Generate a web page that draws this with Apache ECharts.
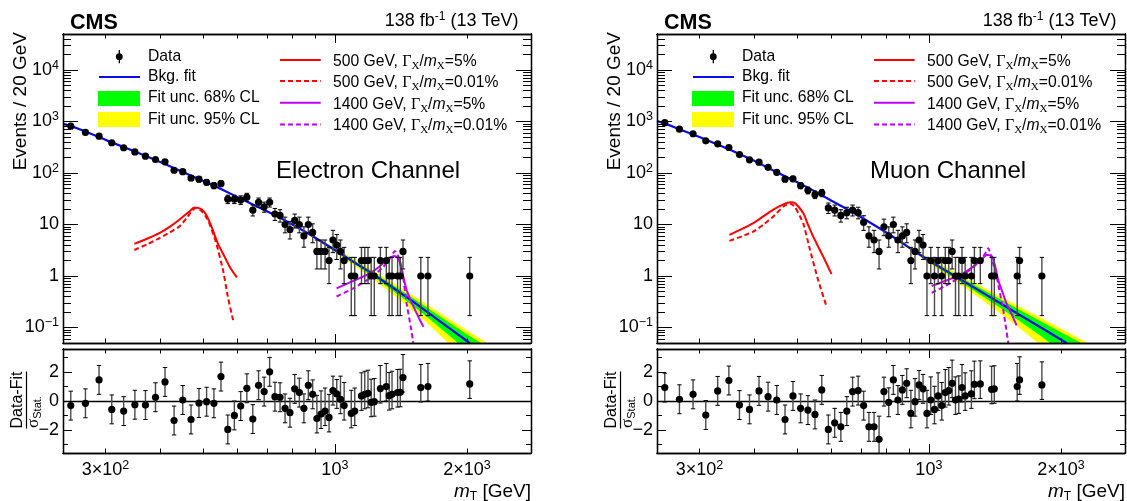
<!DOCTYPE html>
<html><head><meta charset="utf-8">
<script src="https://cdn.jsdelivr.net/npm/echarts@6/dist/echarts.min.js"></script>
<style>html,body{margin:0;padding:0;background:#fff}#c{width:1127px;height:501px}</style>
</head><body><div id="c"></div>
<script>
// ---------------- data ----------------
// Electron channel
const massE = [250,270,290,310,330,350,370,390,410,430,450,470,490,510,530,550,570,590,610,630,650,670,690,710,730,750,770,790,810,830,850,870,890,910,930,950,970,990,1010,1030,1050,1090,1110,1150,1170,1190,1210,1230,1270,1310,1330,1350,1390,1410,1430,1570,1630,2030];
const countE = [813,614,519,387,309,257,212,183,165,113,106,80,76,66,57,62,31,31,30,34,19,27,22,27,16,15,10,8,12,10,6,10,7,3,3,3,2,5,4,3,2,1,1,2,2,2,1,1,2,2,1,1,1,1,3,1,1,1];
const pullE = [-0.32,-0.16,1.46,-0.58,-0.70,-0.26,-0.28,0.26,1.32,-1.35,0.07,-1.28,-0.14,-0.05,-0.16,1.69,-1.97,-1.0,-0.35,0.88,-1.25,1.09,0.65,2.02,0.30,0.26,-0.51,-0.81,0.84,0.58,-0.51,1.09,0.46,-1.21,-0.90,-0.70,-1.14,0.72,0.49,0.12,-0.32,-0.86,-0.70,0.35,0.46,0.53,-0.09,-0.05,0.86,1.0,0.37,0.46,0.58,0.60,1.62,0.93,1.0,1.18];
const fitMassE = [240,250,270,300,350,400,450,500,550,600,650,700,750,800,850,900,1000,1100,1200,1300,1400,1500,1600,1800,2030];
const fitE = [900,822,640,440,261,163,105,71,49,34,24.5,18,13.5,10,7.5,5.6,3.2,1.9,1.2,0.76,0.49,0.33,0.22,0.105,0.05];
const bandMassE = [700,800,900,1000,1200,1400,1600,1800,2000,2200,2400];
const bandFitE = [18,10,5.6,3.2,1.2,0.49,0.22,0.105,0.055,0.031,0.018];
const band68E = [0.01,0.02,0.035,0.05,0.09,0.14,0.2,0.27,0.35,0.43,0.5];
const band95E = [0.02,0.04,0.07,0.10,0.18,0.27,0.38,0.49,0.6,0.7,0.78];
const sigE500w5M = [349,375,398,420,442,466,478,496,509,525,541,560,576,598];
const sigE500w5V = [4.2,5.4,6.8,9.0,12.4,17.9,21.5,20,15.4,8.5,4.3,2.4,1.5,0.94];
const sigE500w001M = [349,375,398,420,442,460,472,482,496,513,535,556,570,586];
const sigE500w001V = [3.2,4.2,5.4,7.0,9.1,13.5,18.5,21,18.5,12.5,4.7,1.3,0.4,0.139];
const sigE1400w5M = [1009,1100,1202,1260,1313,1340,1364,1395,1420,1458,1523,1592];
const sigE1400w5V = [0.575,0.8,1.13,1.5,2.05,2.3,2.45,2.2,1.3,0.53,0.22,0.103];
const sigE1400w001M = [1009,1101,1202,1290,1340,1371,1395,1420,1458,1490,1510];
const sigE1400w001V = [0.4,0.575,0.9,1.5,2.3,3.07,2.4,1.5,0.29,0.1,0.05];

// Muon channel
const massM = [250,270,290,310,330,350,370,390,410,430,450,470,490,510,530,550,570,590,610,630,650,670,690,710,730,750,770,790,810,830,850,870,890,910,930,950,970,990,1010,1030,1050,1070,1090,1110,1130,1150,1170,1190,1210,1250,1270,1310,1390,1410,1590,1610,1810];
const countM = [948,711,578,422,369,313,228,180,162,129,103,76,77,57,46,38,41,21,19,15,17,19,17,11,6,5,3,9,6,10,5,6,7,2,3,5,4,1,2,1,2,1,2,2,3,1,1,2,1,1,2,2,1,1,1,2,1];
const pullM = [0.93,0.12,0.46,-0.97,0.70,1.42,-0.28,-0.58,0.70,0.30,0.07,-1.28,0.35,-0.51,-0.63,-0.93,0.77,-1.97,-1.51,-1.79,-0.70,0.65,0.72,-0.32,-1.79,-1.79,-2.65,0.65,-0.09,1.46,0.07,0.77,1.23,-0.86,-0.05,1.11,0.84,-0.86,0.07,-0.58,0.35,-0.32,0.58,0.72,1.23,0.07,0.14,0.93,0.35,0.49,1.16,1.18,0.81,0.84,1.0,1.46,1.11];
const fitMassM = [240,250,270,300,350,400,450,500,550,600,650,700,750,800,850,900,1000,1100,1200,1300,1400,1500,1600,1800,2060];
const fitM = [1020,920,710,500,290,172,103,67,44,29,20,14,9.8,7.0,5.0,3.6,2.0,1.23,0.79,0.525,0.36,0.253,0.182,0.1,0.05];
const bandMassM = [700,800,900,1000,1200,1400,1600,1800,2000,2200,2400,2600];
const bandFitM = [14,7.0,3.6,2.0,0.79,0.36,0.182,0.1,0.058,0.0357,0.023,0.0153];
const band68M = [0.012,0.025,0.04,0.06,0.11,0.17,0.24,0.32,0.4,0.48,0.55,0.62];
const band95M = [0.025,0.05,0.08,0.12,0.22,0.33,0.44,0.55,0.65,0.74,0.8,0.85];
const sigM500w5M = [351,375,398,420,442,466,482,495,517,530,545,574,600];
const sigM500w5V = [6.3,8.2,10.6,14.5,19.4,24.5,26.9,26,16.7,10,5.8,2.4,1.09];
const sigM500w001M = [351,375,398,420,442,466,482,495,517,536,559,585];
const sigM500w001V = [4.8,5.9,7.3,10,14.3,22.4,25.6,22,10.6,3.2,0.84,0.25];
const sigM1400w5M = [1015,1080,1157,1220,1285,1320,1354,1390,1415,1439,1470,1504,1545,1585];
const sigM1400w5V = [0.64,0.78,0.97,1.25,1.71,2.1,2.57,2.45,1.6,0.84,0.5,0.29,0.18,0.11];
const sigM1400w001M = [1015,1117,1241,1300,1340,1366,1395,1427,1478,1517];
const sigM1400w001V = [0.47,0.72,1.31,1.9,2.6,3.47,2.0,0.97,0.217,0.05];

// Poisson interval table used for the data error bars (low counts)
const poisLo = [0,0.17,0.71,1.37,2.09,2.84,3.62,4.42,5.23,6.06,6.89];
const poisHi = [1.84,2.3,3.6,5.0,6.4,7.7,9.0,10.3,11.5,12.7,13.9];

// ---------------- axis ticks and labels ----------------
const xTickShort = [300,400,500,600,700,800,900,2000];
const xTickLong = [1000];
const xLabelValues = [300,1000,2000];
const xLabelText = ['{b|3×10}{s|2}','{b|10}{s|3}','{b|2×10}{s|3}'];
const yLabelValues = [0.1,1,10,100,1000,10000];
const yLabelText = ['{b|10}{s|−1}','{b|1}','{b|10}','{b|10}{s|2}','{b|10}{s|3}','{b|10}{s|4}'];
const yMinorValues = [];
[0.01,0.1,1,10,100,1000,10000].forEach(d => { for (let k=2;k<=9;k++){ const v=+(d*k).toPrecision(3); if (v>0.05 && v<50000) yMinorValues.push(v); } });
const rMajor = [-2,0,2];
const rMinor = [-3,-1,1,3];

const XMIN=240, XMAX=2800, YMIN=0.05, YMAX=50000, RMIN=-3.6, RMAX=3.6;
const DX = 594;
const FONT = "'Liberation Sans', Arial, Helvetica, sans-serif";
const SERIF = "'Liberation Serif', 'DejaVu Serif', serif";
const C_BLUE='#0a0af0', C_RED='#ff0000', C_VIO='#c000f0', C_GREEN='#00ff00', C_YEL='#ffff00';

const RICH = {
  b:{fontSize:18, fontFamily:FONT, color:'#000', lineHeight:22},
  s:{fontSize:12.5, fontFamily:FONT, color:'#000', lineHeight:13, verticalAlign:'top'}
};

function mkX(g, pos, ticks, len, withLabels){
  return {type:'log', logBase:10, gridIndex:g, position:pos, min:XMIN, max:XMAX, z:10,
    axisLine:{show:true, onZero:false, lineStyle:{color:'#000', width:1.3}},
    axisTick:{show:true, inside:true, length:len, customValues:ticks, lineStyle:{color:'#000', width:1}},
    axisLabel: withLabels ? {show:true, customValues:xLabelValues, margin:6, color:'#000', fontFamily:FONT, fontSize:18,
      formatter:function(v){ const i=xLabelValues.findIndex(t=>Math.abs(t-v)<1e-6*t+1e-9); return i>=0?xLabelText[i]:''; }, rich:RICH} : {show:false},
    splitLine:{show:false}, minorTick:{show:false}, minorSplitLine:{show:false}};
}
function mkYLog(g, pos, ticks, len, withLabels){
  return {type:'log', logBase:10, gridIndex:g, position:pos, min:YMIN, max:YMAX, z:10,
    axisLine:{show:true, onZero:false, lineStyle:{color:'#000', width:1.3}},
    axisTick:{show:true, inside:true, length:len, customValues:ticks, lineStyle:{color:'#000', width:1}},
    axisLabel: withLabels ? {show:true, customValues:yLabelValues, margin:4, color:'#000', fontFamily:FONT, fontSize:18,
      formatter:function(v){ const i=yLabelValues.findIndex(t=>Math.abs(t-v)<1e-6*t); return i>=0?yLabelText[i]:''; }, rich:RICH} : {show:false},
    splitLine:{show:false}, minorTick:{show:false}, minorSplitLine:{show:false}};
}
function mkYR(g, pos, ticks, len, withLabels){
  return {type:'value', gridIndex:g, position:pos, min:RMIN, max:RMAX, z:10,
    axisLine:{show:true, onZero:false, lineStyle:{color:'#000', width:1.3}},
    axisTick:{show:true, inside:true, length:len, customValues:ticks, lineStyle:{color:'#000', width:1}},
    axisLabel: withLabels ? {show:true, customValues:rMajor, margin:4, color:'#000', fontFamily:FONT, fontSize:18,
      formatter:function(v){ return (v<0?'−':'')+Math.abs(v); }} : {show:false},
    splitLine:{show:false}, minorTick:{show:false}, minorSplitLine:{show:false}};
}

const grids=[], xAxes=[], yAxes=[];
for (let p=0;p<2;p++){
  grids.push({left:63+p*DX, top:34, width:468, height:309});
  grids.push({left:63+p*DX, top:349, width:468, height:104});
}
for (let g=0; g<4; g++){
  const ratio = g%2===1;
  xAxes.push(mkX(g,'bottom',xTickShort,4.5,ratio));
  xAxes.push(mkX(g,'bottom',xTickLong,9,false));
  xAxes.push(mkX(g,'top',xTickShort,4.5,false));
  xAxes.push(mkX(g,'top',xTickLong,9,false));
  if (!ratio){
    yAxes.push(mkYLog(g,'left',yLabelValues,15,true));
    yAxes.push(mkYLog(g,'left',yMinorValues,8,false));
    yAxes.push(mkYLog(g,'right',yLabelValues,15,false));
    yAxes.push(mkYLog(g,'right',yMinorValues,8,false));
  } else {
    yAxes.push(mkYR(g,'left',rMajor,9,true));
    yAxes.push(mkYR(g,'left',rMinor,5,false));
    yAxes.push(mkYR(g,'right',rMajor,9,false));
    yAxes.push(mkYR(g,'right',rMinor,5,false));
  }
}

function zip(a,b){ return a.map((v,i)=>[v,b[i]]); }
function pois(n){ if (n<poisLo.length) return [poisLo[n], poisHi[n]]; const s=Math.sqrt(n); return [n-s, n+s+0.5]; }

function bandSeries(xi, yi, mass, fit, rel, color, z){
  return {type:'custom', xAxisIndex:xi, yAxisIndex:yi, z:z, clip:true, silent:true,
    data:[[mass[0], fit[0]]],
    renderItem:function(params, api){
      const up=[], dn=[];
      for (let i=0;i<mass.length;i++){
        up.push(api.coord([mass[i], fit[i]*(1+rel[i])]));
        dn.push(api.coord([mass[i], fit[i]*(1-rel[i])]));
      }
      return {type:'polygon', shape:{points:up.concat(dn.reverse())}, style:{fill:color}};
    }};
}
function errorBars(xi, yi, data, z){
  return {type:'custom', xAxisIndex:xi, yAxisIndex:yi, z:z, clip:true, silent:true,
    data:data, encode:{x:0, y:1},
    renderItem:function(params, api){
      const x=api.value(0), lo=api.value(2), hi=api.value(3);
      const a=api.coord([x,lo]), b=api.coord([x,hi]);
      const c=2.2;
      return {type:'group', children:[
        {type:'line', shape:{x1:a[0],y1:a[1],x2:b[0],y2:b[1]}, style:{stroke:'#4a4a4a', lineWidth:1.4}},
        {type:'line', shape:{x1:a[0]-c,y1:a[1],x2:a[0]+c,y2:a[1]}, style:{stroke:'#000', lineWidth:1}},
        {type:'line', shape:{x1:b[0]-c,y1:b[1],x2:b[0]+c,y2:b[1]}, style:{stroke:'#000', lineWidth:1}}
      ]};
    }};
}
function lineSeries(xi, yi, m, v, color, dashed, z){
  return {type:'line', xAxisIndex:xi, yAxisIndex:yi, data:zip(m,v), showSymbol:false, symbol:'none',
    smooth: dashed?0.15:0.25, clip:true, z:z, silent:true,
    lineStyle:{color:color, width:2, type: dashed?[5,3]:'solid'}};
}

function panelSeries(p, d){
  const gm=2*p, gr=2*p+1;
  const xm=4*gm, ym=4*gm, xr=4*gr, yr=4*gr;
  const errMain = d.mass.map((m,i)=>{ const iv=pois(d.count[i]); return [m, d.count[i], iv[0], iv[1]]; });
  const errPull = d.mass.map((m,i)=>[m, d.pull[i], d.pull[i]-1, d.pull[i]+(d.count[i]<=3?1.6:1)]);
  const dot = {color:'#000', opacity:1, borderWidth:0};
  return [
    bandSeries(xm, ym, d.bandMass, d.bandFit, d.band95, C_YEL, 1),
    bandSeries(xm, ym, d.bandMass, d.bandFit, d.band68, C_GREEN, 2),
    {type:'line', xAxisIndex:xm, yAxisIndex:ym, data:zip(d.fitMass,d.fit), showSymbol:false, symbol:'none', clip:true, z:3, silent:true,
      lineStyle:{color:C_BLUE, width:2.2}},
    lineSeries(xm, ym, d.s1m, d.s1v, C_RED, false, 4),
    lineSeries(xm, ym, d.s2m, d.s2v, C_RED, true, 4),
    lineSeries(xm, ym, d.s3m, d.s3v, C_VIO, false, 4),
    lineSeries(xm, ym, d.s4m, d.s4v, C_VIO, true, 4),
    errorBars(xm, ym, errMain, 5),
    {type:'scatter', xAxisIndex:xm, yAxisIndex:ym, data:zip(d.mass,d.count), symbol:'circle', symbolSize:7.2, z:6, silent:true,
      itemStyle:dot},
    errorBars(xr, yr, errPull, 5),
    {type:'scatter', xAxisIndex:xr, yAxisIndex:yr, data:zip(d.mass,d.pull), symbol:'circle', symbolSize:7.2, z:6, silent:true,
      itemStyle:dot,
      markLine:{silent:true, symbol:['none','none'], label:{show:false}, animation:false,
        lineStyle:{color:'#000', width:1.4, type:'solid', opacity:1}, data:[{yAxis:0}]}}
  ];
}

const series = [].concat(
  panelSeries(0, {mass:massE, count:countE, pull:pullE, fitMass:fitMassE, fit:fitE, bandMass:bandMassE, bandFit:bandFitE, band68:band68E, band95:band95E,
    s1m:sigE500w5M, s1v:sigE500w5V, s2m:sigE500w001M, s2v:sigE500w001V, s3m:sigE1400w5M, s3v:sigE1400w5V, s4m:sigE1400w001M, s4v:sigE1400w001V}),
  panelSeries(1, {mass:massM, count:countM, pull:pullM, fitMass:fitMassM, fit:fitM, bandMass:bandMassM, bandFit:bandFitM, band68:band68M, band95:band95M,
    s1m:sigM500w5M, s1v:sigM500w5V, s2m:sigM500w001M, s2v:sigM500w001V, s3m:sigM1400w5M, s3v:sigM1400w5V, s4m:sigM1400w001M, s4v:sigM1400w001V})
);

// ---------------- texts and legend (graphic) ----------------
const LRICH = {
  n:{fontSize:15.7, fontFamily:FONT, color:'#000', lineHeight:20},
  g:{fontSize:16, fontFamily:SERIF, color:'#000', lineHeight:20},
  i:{fontSize:15.7, fontFamily:FONT, fontStyle:'italic', color:'#000', lineHeight:20},
  x:{fontSize:11, fontFamily:SERIF, color:'#000', lineHeight:11, verticalAlign:'bottom'}
};
function txt(x, y, text, opt){
  return Object.assign({type:'text', x:x, y:y, silent:true, z:20,
    style:Object.assign({text:text, fill:'#000', fontFamily:FONT, fontSize:15.7, align:'left', verticalAlign:'middle'}, opt||{})});
}
function ln(x1,y1,x2,y2,color,w,dash){
  return {type:'line', silent:true, z:20, shape:{x1:x1,y1:y1,x2:x2,y2:y2}, style:{stroke:color, lineWidth:w, lineDash:dash||null}};
}
function panelGraphics(p, channel, lumiRight){
  const dx = p*DX;
  const sigText = (m,w) => '{n|'+m+' GeV, }{g|Γ}{x|X}{n|/}{i|m}{x|X}{n|='+w+'%}';
  const els = [
    txt(70+dx, 23, 'CMS', {fontSize:21.5, fontWeight:'bold'}),
    txt(lumiRight, 21, '{n|138 fb}{s|-1}{n| (13 TeV)}', {align:'right', rich:{
      n:{fontSize:18, fontFamily:FONT, color:'#000', lineHeight:20},
      s:{fontSize:12, fontFamily:FONT, color:'#000', lineHeight:12, verticalAlign:'top'}}}),
    txt(276+dx, 171, channel, {fontSize:24}),
    // legend left column
    ln(119.3+dx, 50, 119.3+dx, 63.3, '#000', 1.3),
    {type:'circle', silent:true, z:20, shape:{cx:119.3+dx, cy:56.7, r:3.4}, style:{fill:'#000'}},
    txt(148+dx, 56.5, 'Data'),
    ln(99+dx, 77, 140+dx, 77, C_BLUE, 2),
    txt(148+dx, 77, 'Bkg. fit'),
    {type:'rect', silent:true, z:20, shape:{x:98+dx, y:91, width:42, height:15}, style:{fill:C_GREEN}},
    txt(148+dx, 98, 'Fit unc. 68% CL'),
    {type:'rect', silent:true, z:20, shape:{x:98+dx, y:112, width:42, height:15}, style:{fill:C_YEL}},
    txt(148+dx, 119.5, 'Fit unc. 95% CL'),
    // legend right column
    ln(280+dx, 60, 320.7+dx, 60, C_RED, 2),
    txt(333+dx, 62, sigText(500,5), {rich:LRICH}),
    ln(280+dx, 81, 320.7+dx, 81, C_RED, 2, [5,3]),
    txt(333+dx, 83, sigText(500,'0.01'), {rich:LRICH}),
    ln(280+dx, 102.7, 320.7+dx, 102.7, C_VIO, 2),
    txt(333+dx, 104.5, sigText(1400,5), {rich:LRICH}),
    ln(280+dx, 124.5, 320.7+dx, 124.5, C_VIO, 2, [5,3]),
    txt(333+dx, 126, sigText(1400,'0.01'), {rich:LRICH}),
    // axis titles
    {type:'text', x:21+dx, y:32, rotation:Math.PI/2, silent:true, z:20,
      style:{text:'Events / 20 GeV', fill:'#000', fontFamily:FONT, fontSize:19, align:'right', verticalAlign:'middle'}},
    {type:'text', x:18+dx, y:400, rotation:Math.PI/2, silent:true, z:20,
      style:{text:'Data-Fit', fill:'#000', fontFamily:FONT, fontSize:16, align:'center', verticalAlign:'middle'}},
    ln(26.5+dx, 371.5, 26.5+dx, 428.5, '#000', 1.2),
    {type:'text', x:34+dx, y:412, rotation:Math.PI/2, silent:true, z:20,
      style:{text:'{a|σ}{b|Stat.}', fill:'#000', align:'center', verticalAlign:'middle', rich:{
        a:{fontSize:17, fontFamily:SERIF, color:'#000', lineHeight:18},
        b:{fontSize:11, fontFamily:FONT, color:'#000', lineHeight:11, verticalAlign:'bottom'}}}},
    txt(531+dx, 492, '{i|m}{t|T}{n| [GeV]}', {align:'right', rich:{
      i:{fontSize:19, fontFamily:FONT, fontStyle:'italic', color:'#000', lineHeight:22},
      n:{fontSize:19, fontFamily:FONT, color:'#000', lineHeight:22},
      t:{fontSize:12, fontFamily:FONT, color:'#000', lineHeight:12, verticalAlign:'bottom'}}})
  ];
  return els;
}

const chart = echarts.init(document.getElementById('c'), null, {renderer:'canvas'});
chart.setOption({
  animation:false,
  backgroundColor:'#ffffff',
  textStyle:{fontFamily:FONT},
  grid:grids, xAxis:xAxes, yAxis:yAxes, series:series,
  graphic:{elements:[].concat(panelGraphics(0,'Electron Channel',518.5), panelGraphics(1,'Muon Channel',1116.5))}
});
</script></body></html>
